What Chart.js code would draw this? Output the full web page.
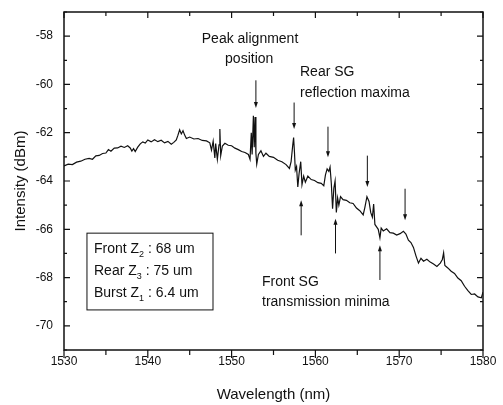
<!DOCTYPE html>
<html lang="en">
<head>
    <meta charset="UTF-8">
    <title>Intensity vs Wavelength</title>
    <script src="https://cdn.jsdelivr.net/npm/chart.js"></script>
    <style>
        body { margin: 0; background: #fff; }
        #spectrum { display: block; }
    </style>
</head>
<body>
    <canvas id="spectrum" width="503" height="405"></canvas>
    <script>
        const wavelength = [
            1530.0, 1530.5, 1531.0, 1531.5, 1532.0, 1532.5, 1533.0, 1533.4, 1533.8, 1534.2,
            1534.6, 1535.0, 1535.3, 1535.6, 1536.0, 1536.4, 1536.8, 1537.2, 1537.6, 1537.9,
            1538.1, 1538.3, 1538.5, 1538.8, 1539.1, 1539.4, 1539.7, 1540.0, 1540.4, 1540.8,
            1541.2, 1541.6, 1542.0, 1542.4, 1542.8, 1543.1, 1543.4, 1543.6, 1543.8, 1544.0,
            1544.2, 1544.4, 1544.6, 1545.0, 1545.5, 1546.0, 1546.5, 1547.0, 1547.4, 1547.6,
            1547.8, 1548.0, 1548.1, 1548.3, 1548.5, 1548.6, 1548.7, 1548.9, 1549.2, 1549.6,
            1550.0, 1550.4, 1550.8, 1551.2, 1551.6, 1552.0, 1552.2, 1552.35, 1552.45, 1552.6,
            1552.7, 1552.8, 1552.9, 1553.0, 1553.2, 1553.5, 1553.8, 1554.1, 1554.5, 1555.0,
            1555.5, 1556.0, 1556.5, 1556.9, 1557.1, 1557.3, 1557.4, 1557.5, 1557.6, 1557.75,
            1557.9, 1558.05, 1558.25, 1558.4, 1558.6, 1558.8, 1559.1, 1559.5, 1559.9, 1560.3,
            1560.7, 1561.0, 1561.2, 1561.4, 1561.6, 1561.75, 1561.9, 1562.05, 1562.2, 1562.35,
            1562.5, 1562.65, 1562.8, 1563.0, 1563.3, 1563.7, 1564.1, 1564.5, 1564.9, 1565.3,
            1565.7, 1565.9, 1566.15, 1566.4, 1566.6, 1566.8, 1566.95, 1567.1, 1567.3, 1567.5,
            1567.7, 1567.85, 1568.1, 1568.5, 1568.9, 1569.3, 1569.7, 1570.1, 1570.5, 1570.8,
            1571.1, 1571.4, 1571.7, 1572.0, 1572.3, 1572.6, 1572.9, 1573.3, 1573.7, 1574.1,
            1574.5, 1574.9, 1575.15, 1575.3, 1575.45, 1575.8, 1576.2, 1576.6, 1577.0, 1577.4,
            1577.8, 1578.2, 1578.6, 1579.0, 1579.4, 1579.8, 1580.0
        ];
        const intensity = [
            -63.38, -63.30, -63.32, -63.22, -63.18, -63.10, -63.06, -63.10, -62.96, -62.94,
            -62.86, -62.84, -62.70, -62.77, -62.64, -62.63, -62.56, -62.61, -62.54, -62.63,
            -62.76, -62.66, -62.78, -62.60, -62.46, -62.38, -62.43, -62.30, -62.38, -62.29,
            -62.37, -62.31, -62.42, -62.36, -62.48, -62.40, -62.30, -62.10, -61.88, -62.05,
            -61.92, -62.10, -62.24, -62.18, -62.26, -62.24, -62.32, -62.34, -62.42, -62.72,
            -62.35, -63.05, -62.45, -63.10, -62.50, -61.85, -62.95, -62.55, -62.44, -62.52,
            -62.54, -62.64, -62.70, -62.78, -62.82, -62.90, -63.10, -62.00, -62.90, -61.30,
            -62.60, -61.35, -62.85, -63.30, -62.90, -62.75, -62.98, -62.85, -62.98, -63.02,
            -63.14, -63.20, -63.32, -63.48, -63.20, -62.50, -62.20, -62.80, -63.55, -63.40,
            -64.25, -63.70, -63.20, -64.15, -63.80, -64.05, -63.80, -63.94, -63.98, -64.07,
            -64.10, -64.20, -63.75, -63.50, -63.60, -63.42, -64.10, -65.15, -64.30, -64.00,
            -65.30, -64.70, -65.00, -64.65, -64.77, -64.80, -64.90, -64.93, -65.12, -65.23,
            -65.40, -65.10, -64.65, -64.85, -65.30, -65.50, -64.95, -65.80, -65.90, -66.00,
            -66.35, -65.95, -66.07, -65.98, -66.14, -66.16, -66.24, -66.18, -66.08, -66.20,
            -66.45, -66.55, -66.75, -67.10, -67.40, -67.20, -67.32, -67.24, -67.36, -67.44,
            -67.54, -67.40, -67.25, -66.98, -67.50, -67.60, -67.74, -67.83, -68.02, -68.13,
            -68.36, -68.54, -68.70, -68.68, -68.80, -68.84, -68.60
        ];
        const xTicks = [1530, 1540, 1550, 1560, 1570, 1580];
        const yTicks = [-70, -68, -66, -64, -62, -60, -58];

        // arrows: x position, tail y, tip y (all in data units)
        const arrowX    = [1552.9, 1557.46, 1561.5, 1566.2, 1570.7, 1558.3, 1562.4, 1567.7];
        const arrowTail = [-59.83, -60.75, -61.75, -62.95, -64.32, -66.25, -67.0, -68.1];
        const arrowTip  = [-60.98, -61.85, -63.02, -64.25, -65.63, -64.8, -65.56, -66.66];

        const FONT = '"Liberation Sans", Arial, Helvetica, sans-serif';

        const frameAndNotes = {
            id: 'frameAndNotes',
            afterDraw(chart) {
                const { ctx, chartArea: a, scales: { x, y } } = chart;
                ctx.save();
                ctx.strokeStyle = '#111';
                ctx.fillStyle = '#111';

                // frame
                ctx.lineWidth = 1.5;
                ctx.strokeRect(a.left, a.top, a.right - a.left, a.bottom - a.top);

                // tick marks
                ctx.lineWidth = 1.2;
                ctx.beginPath();
                for (let v = 1530; v <= 1580; v += 5) {
                    const px = x.getPixelForValue(v);
                    const major = v % 10 === 0;
                    ctx.moveTo(px, a.bottom);
                    ctx.lineTo(px, a.bottom + (major ? 8 : 5));
                    ctx.moveTo(px, a.top);
                    ctx.lineTo(px, a.top + (major ? 6 : 4));
                }
                for (let v = -71; v <= -57; v += 1) {
                    const py = y.getPixelForValue(v);
                    const major = yTicks.includes(v);
                    ctx.moveTo(a.left, py);
                    ctx.lineTo(a.left + (major ? 6 : 3), py);
                    ctx.moveTo(a.right, py);
                    ctx.lineTo(a.right - (major ? 6 : 3), py);
                }
                ctx.stroke();

                // arrows
                ctx.lineWidth = 1;
                arrowX.forEach((v, i) => {
                    const px = x.getPixelForValue(v);
                    const pt = y.getPixelForValue(arrowTail[i]);
                    const pp = y.getPixelForValue(arrowTip[i]);
                    const dir = pp > pt ? 1 : -1;
                    ctx.beginPath();
                    ctx.moveTo(px, pt);
                    ctx.lineTo(px, pp - dir * 5);
                    ctx.stroke();
                    ctx.beginPath();
                    ctx.moveTo(px, pp);
                    ctx.lineTo(px - 2, pp - dir * 6);
                    ctx.lineTo(px + 2, pp - dir * 6);
                    ctx.closePath();
                    ctx.fill();
                });

                // annotation text
                ctx.font = '14px ' + FONT;
                ctx.textBaseline = 'middle';
                ctx.textAlign = 'center';
                ctx.fillText('Peak alignment', x.getPixelForValue(1552.2), y.getPixelForValue(-58.12));
                ctx.fillText('position', x.getPixelForValue(1552.1), y.getPixelForValue(-58.95));
                ctx.textAlign = 'left';
                ctx.fillText('Rear SG', x.getPixelForValue(1558.16), y.getPixelForValue(-59.48));
                ctx.fillText('reflection maxima', x.getPixelForValue(1558.16), y.getPixelForValue(-60.35));
                ctx.fillText('Front SG', x.getPixelForValue(1553.63), y.getPixelForValue(-68.19));
                ctx.fillText('transmission minima', x.getPixelForValue(1553.63), y.getPixelForValue(-69.01));

                // parameter box
                const bl = x.getPixelForValue(1532.74), bt = y.getPixelForValue(-66.16);
                const br = x.getPixelForValue(1547.78), bb = y.getPixelForValue(-69.34);
                ctx.lineWidth = 1;
                ctx.strokeRect(bl, bt, br - bl, bb - bt);
                const rows = [
                    ['Front Z', '2', ' : 68 um', -66.82],
                    ['Rear Z', '3', ' : 75 um', -67.73],
                    ['Burst Z', '1', ' : 6.4 um', -68.64]
                ];
                const tx = x.getPixelForValue(1533.58);
                rows.forEach(([a1, sub, rest, yv]) => {
                    const ty = y.getPixelForValue(yv);
                    ctx.font = '14px ' + FONT;
                    ctx.fillText(a1, tx, ty);
                    let cx = tx + ctx.measureText(a1).width;
                    ctx.font = '9px ' + FONT;
                    ctx.fillText(sub, cx, ty + 5);
                    cx += ctx.measureText(sub).width;
                    ctx.font = '14px ' + FONT;
                    ctx.fillText(rest, cx, ty);
                });

                // axis titles
                ctx.font = '15px ' + FONT;
                ctx.textAlign = 'center';
                ctx.fillText('Wavelength (nm)', (a.left + a.right) / 2, 395);
                ctx.translate(21, (a.top + a.bottom) / 2);
                ctx.rotate(-Math.PI / 2);
                ctx.fillText('Intensity (dBm)', 0, 0);
                ctx.restore();
            }
        };

        new Chart(document.getElementById('spectrum'), {
            type: 'line',
            data: {
                datasets: [{
                    data: wavelength.map((w, i) => ({ x: w, y: intensity[i] })),
                    borderColor: '#111',
                    borderWidth: 1.2,
                    pointRadius: 0,
                    tension: 0,
                    fill: false
                }]
            },
            options: {
                responsive: false,
                animation: false,
                devicePixelRatio: 1,
                layout: { padding: { top: 12, right: 20, left: 0, bottom: 0 } },
                plugins: { legend: { display: false }, tooltip: { enabled: false } },
                scales: {
                    x: {
                        type: 'linear',
                        min: 1530,
                        max: 1580,
                        afterBuildTicks: axis => { axis.ticks = xTicks.map(v => ({ value: v })); },
                        afterFit: axis => {
                            axis.height = 55;
                            axis.paddingLeft = 0;
                            axis.paddingRight = 0;
                        },
                        grid: { display: false, drawTicks: false },
                        border: { display: false },
                        ticks: { color: '#111', font: { size: 12, family: FONT }, padding: 4, maxRotation: 0,
                                 callback: v => String(v) }
                    },
                    y: {
                        min: -71,
                        max: -57,
                        afterBuildTicks: axis => { axis.ticks = yTicks.map(v => ({ value: v })); },
                        afterFit: axis => {
                            axis.width = 64;
                            axis.paddingTop = 0;
                            axis.paddingBottom = 0;
                        },
                        grid: { display: false, drawTicks: false },
                        border: { display: false },
                        ticks: { color: '#111', font: { size: 12, family: FONT }, padding: 11,
                                 callback: v => String(v) }
                    }
                }
            },
            plugins: [frameAndNotes]
        });
    </script>
</body>
</html>
